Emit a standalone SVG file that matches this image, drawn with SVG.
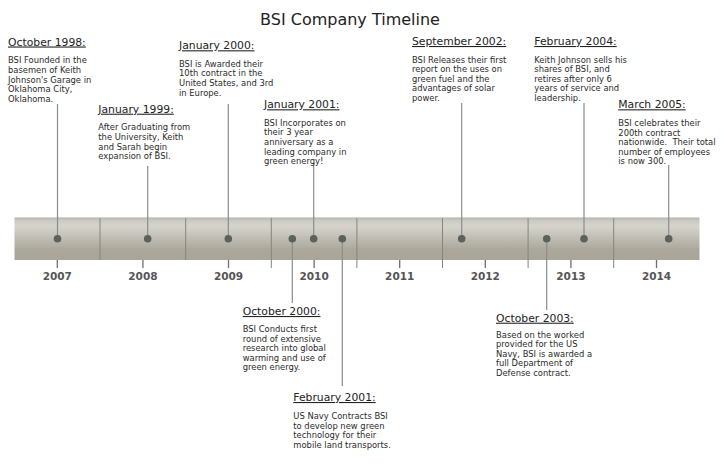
<svg xmlns="http://www.w3.org/2000/svg" width="722" height="464" viewBox="0 0 722 464">
<defs>
<linearGradient id="barGrad" x1="0" y1="0" x2="0" y2="1">
<stop offset="0" stop-color="#b3b1a7"/>
<stop offset="0.06" stop-color="#c9c7c0"/>
<stop offset="0.2" stop-color="#d6d4ce"/>
<stop offset="0.5" stop-color="#bebcb2"/>
<stop offset="0.75" stop-color="#aba89b"/>
<stop offset="1" stop-color="#a9a699"/>
</linearGradient>
<style>
.title{font-family:"DejaVu Sans",Verdana,sans-serif;font-size:16px;fill:#222}
.head{font-family:"DejaVu Sans",Verdana,sans-serif;font-size:10.8px;fill:#222;text-decoration:underline}
.body{font-family:"DejaVu Sans",Verdana,sans-serif;font-size:8.4px;fill:#2a2a2a;white-space:pre}
.year{font-family:"DejaVu Sans",Verdana,sans-serif;font-size:10.5px;font-weight:bold;fill:#555;text-anchor:middle}
.conn{stroke:#8c8c8c;stroke-width:1.2;fill:none}
.div{stroke:#85857e;stroke-width:1;fill:none}
.tick{stroke:#6e6e6a;stroke-width:1.3;fill:none}
.dot{fill:#5b6259}
</style>
</defs>
<rect width="722" height="464" fill="#ffffff"/>
<text class="title" x="350" y="25" text-anchor="middle">BSI Company Timeline</text>

<g id="axis">
<rect x="14.5" y="217.5" width="685" height="42.5" fill="url(#barGrad)"/>
<line class="div" x1="100" y1="218" x2="100" y2="260"/>
<line class="div" x1="185.7" y1="218" x2="185.7" y2="260"/>
<line class="div" x1="271.3" y1="218" x2="271.3" y2="268"/>
<line class="div" x1="356.9" y1="218" x2="356.9" y2="268"/>
<line class="div" x1="442.5" y1="218" x2="442.5" y2="268"/>
<line class="div" x1="528.1" y1="218" x2="528.1" y2="268"/>
<line class="div" x1="613.7" y1="218" x2="613.7" y2="268"/>
<line class="tick" x1="57.3" y1="260" x2="57.3" y2="268"/>
<line class="tick" x1="142.9" y1="260" x2="142.9" y2="268"/>
<line class="tick" x1="228.5" y1="260" x2="228.5" y2="268"/>
<line class="tick" x1="314.1" y1="260" x2="314.1" y2="268"/>
<line class="tick" x1="399.7" y1="260" x2="399.7" y2="268"/>
<line class="tick" x1="485.3" y1="260" x2="485.3" y2="268"/>
<line class="tick" x1="570.9" y1="260" x2="570.9" y2="268"/>
<line class="tick" x1="656.5" y1="260" x2="656.5" y2="268"/>
<text class="year" x="57.3" y="280">2007</text>
<text class="year" x="142.9" y="280">2008</text>
<text class="year" x="228.5" y="280">2009</text>
<text class="year" x="314.1" y="280">2010</text>
<text class="year" x="399.7" y="280">2011</text>
<text class="year" x="485.3" y="280">2012</text>
<text class="year" x="570.9" y="280">2013</text>
<text class="year" x="656.5" y="280">2014</text>
</g>

<g id="connectors">
<line class="conn" x1="57.5" y1="104" x2="57.5" y2="238.7"/>
<line class="conn" x1="147.7" y1="166" x2="147.7" y2="238.7"/>
<line class="conn" x1="228.3" y1="104" x2="228.3" y2="238.7"/>
<line class="conn" x1="313.7" y1="163" x2="313.7" y2="238.7"/>
<line class="conn" x1="461.7" y1="103" x2="461.7" y2="238.7"/>
<line class="conn" x1="584" y1="103" x2="584" y2="238.7"/>
<line class="conn" x1="668.7" y1="165" x2="668.7" y2="238.7"/>
<line class="conn" x1="292.3" y1="238.7" x2="292.3" y2="303"/>
<line class="conn" x1="342.3" y1="238.7" x2="342.3" y2="386"/>
<line class="conn" x1="546.7" y1="238.7" x2="546.7" y2="310"/>
</g>

<g id="dots">
<circle class="dot" cx="57.5" cy="238.7" r="3.8"/>
<circle class="dot" cx="147.7" cy="238.7" r="3.8"/>
<circle class="dot" cx="228.3" cy="238.7" r="3.8"/>
<circle class="dot" cx="292.3" cy="238.7" r="3.8"/>
<circle class="dot" cx="313.7" cy="238.7" r="3.8"/>
<circle class="dot" cx="342.3" cy="238.7" r="3.8"/>
<circle class="dot" cx="461.7" cy="238.7" r="3.8"/>
<circle class="dot" cx="546.7" cy="238.7" r="3.8"/>
<circle class="dot" cx="584" cy="238.7" r="3.8"/>
<circle class="dot" cx="668.7" cy="238.7" r="3.8"/>
</g>

<g id="event-oct-1998">
<text class="head" x="8" y="45.5">October 1998:</text>
<text class="body" x="8" y="63.3"><tspan x="8">BSI Founded in the</tspan><tspan x="8" dy="9.6">basemen of Keith</tspan><tspan x="8" dy="9.6">Johnson's Garage in</tspan><tspan x="8" dy="9.6">Oklahoma City,</tspan><tspan x="8" dy="9.6">Oklahoma.</tspan></text>
</g>

<g id="event-jan-1999">
<text class="head" x="98.3" y="112.7">January 1999:</text>
<text class="body" x="98.3" y="130.3"><tspan x="98.3">After Graduating from</tspan><tspan x="98.3" dy="9.6">the University, Keith</tspan><tspan x="98.3" dy="9.6">and Sarah begin</tspan><tspan x="98.3" dy="9.6">expansion of BSI.</tspan></text>
</g>

<g id="event-jan-2000">
<text class="head" x="179" y="49.3">January 2000:</text>
<text class="body" x="179" y="66.7"><tspan x="179">BSI is Awarded their</tspan><tspan x="179" dy="9.6">10th contract in the</tspan><tspan x="179" dy="9.6">United States, and 3rd</tspan><tspan x="179" dy="9.6">in Europe.</tspan></text>
</g>

<g id="event-jan-2001">
<text class="head" x="264" y="108.3">January 2001:</text>
<text class="body" x="264" y="125.7"><tspan x="264">BSI Incorporates on</tspan><tspan x="264" dy="9.6">their 3 year</tspan><tspan x="264" dy="9.6">anniversary as a</tspan><tspan x="264" dy="9.6">leading company in</tspan><tspan x="264" dy="9.6">green energy!</tspan></text>
</g>

<g id="event-sep-2002">
<text class="head" x="412" y="45">September 2002:</text>
<text class="body" x="412" y="62.5"><tspan x="412">BSI Releases their first</tspan><tspan x="412" dy="9.6">report on the uses on</tspan><tspan x="412" dy="9.6">green fuel and the</tspan><tspan x="412" dy="9.6">advantages of solar</tspan><tspan x="412" dy="9.6">power.</tspan></text>
</g>

<g id="event-feb-2004">
<text class="head" x="534.3" y="45">February 2004:</text>
<text class="body" x="534.3" y="62.5"><tspan x="534.3">Keith Johnson sells his</tspan><tspan x="534.3" dy="9.6">shares of BSI, and</tspan><tspan x="534.3" dy="9.6">retires after only 6</tspan><tspan x="534.3" dy="9.6">years of service and</tspan><tspan x="534.3" dy="9.6">leadership.</tspan></text>
</g>

<g id="event-mar-2005">
<text class="head" x="618.3" y="108.3">March 2005:</text>
<text class="body" x="618.3" y="126"><tspan x="618.3">BSI celebrates their</tspan><tspan x="618.3" dy="9.6">200th contract</tspan><tspan x="618.3" dy="9.6">nationwide.  Their total</tspan><tspan x="618.3" dy="9.6">number of employees</tspan><tspan x="618.3" dy="9.6">is now 300.</tspan></text>
</g>

<g id="event-oct-2000">
<text class="head" x="242.7" y="315">October 2000:</text>
<text class="body" x="242.7" y="332"><tspan x="242.7">BSI Conducts first</tspan><tspan x="242.7" dy="9.6">round of extensive</tspan><tspan x="242.7" dy="9.6">research into global</tspan><tspan x="242.7" dy="9.6">warming and use of</tspan><tspan x="242.7" dy="9.6">green energy.</tspan></text>
</g>

<g id="event-feb-2001">
<text class="head" x="293.3" y="401">February 2001:</text>
<text class="body" x="293.3" y="419"><tspan x="293.3">US Navy Contracts BSI</tspan><tspan x="293.3" dy="9.6">to develop new green</tspan><tspan x="293.3" dy="9.6">technology for their</tspan><tspan x="293.3" dy="9.6">mobile land transports.</tspan></text>
</g>

<g id="event-oct-2003">
<text class="head" x="496" y="321.7">October 2003:</text>
<text class="body" x="496" y="337.5"><tspan x="496">Based on the worked</tspan><tspan x="496" dy="9.6">provided for the US</tspan><tspan x="496" dy="9.6">Navy, BSI is awarded a</tspan><tspan x="496" dy="9.6">full Department of</tspan><tspan x="496" dy="9.6">Defense contract.</tspan></text>
</g>
</svg>
